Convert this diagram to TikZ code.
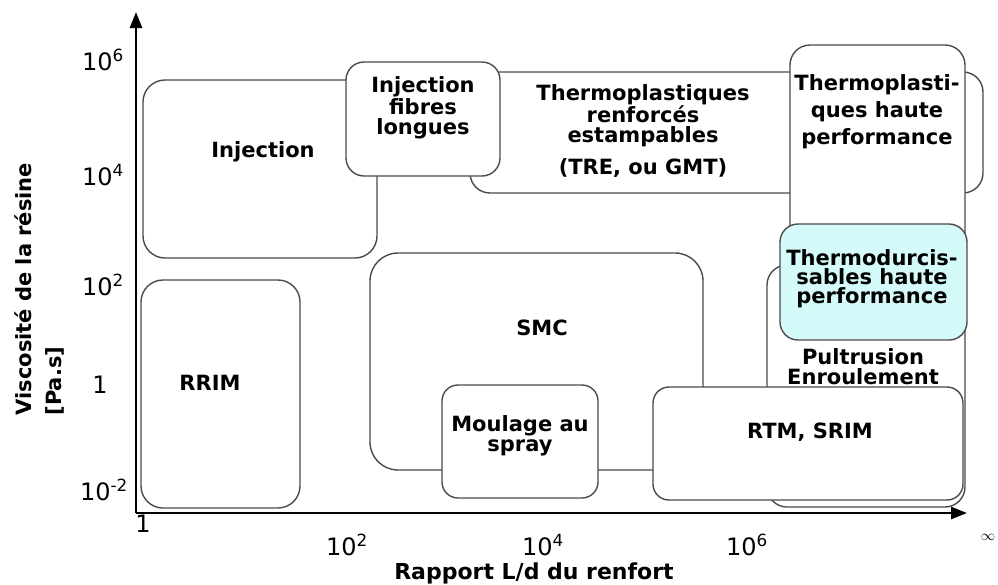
\documentclass[tikz,border=0pt]{standalone}
\usepackage{fontspec}
\setmainfont{DejaVu Sans}
\usepackage{xcolor}
\usepackage{tikz}
\usetikzlibrary{arrows.meta, positioning}
\definecolor{zoneline}{RGB}{75,75,75}
\definecolor{thermofill}{RGB}{212,250,250}

\begin{document}
\begin{tikzpicture}[
  x=1pt, y=-1pt,
  zone/.style={draw=zoneline, line width=1.4pt, rounded corners=20pt,
               fill=white, inner sep=0pt},
  lbl/.style={font=\bfseries\fontsize{21}{18}\selectfont, align=center},
  tick/.style={font=\fontsize{24}{26}\selectfont},
  axis/.style={line width=2.6pt, -{Triangle[length=16pt, width=12pt]}},
]
\useasboundingbox (0,0) rectangle (998,584);

\node[zone, minimum width=234pt, minimum height=178pt, rounded corners=22pt] (injection) at (260,169) {};
\node[zone, minimum width=513pt, minimum height=121pt] (tre) at (726.5,132.5) {};
\node[zone, minimum width=154pt, minimum height=114pt, rounded corners=18pt] (fibres) at (423,119) {};
\node[zone, minimum width=175pt, minimum height=255pt] (tphp) at (877.5,172.5) {};
\node[zone, minimum width=333pt, minimum height=217pt, rounded corners=28pt] (smc) at (536.5,361.5) {};
\node[zone, minimum width=156pt, minimum height=113pt, rounded corners=16pt] (moulage) at (520,441.5) {};
\node[zone, minimum width=198pt, minimum height=242pt] (pultrusion) at (866,386) {};
\node[zone, minimum width=310pt, minimum height=113pt, rounded corners=16pt] (rtm) at (808,443.5) {};
\node[zone, fill=thermofill, minimum width=187pt, minimum height=116pt, rounded corners=18pt] (thermodurc) at (873.5,282) {};
\node[zone, minimum width=159pt, minimum height=228pt, rounded corners=22pt] (rrim) at (220.5,394) {};

\node[lbl] (injectionlbl) at (263,152) {Injection};
\node[lbl, font=\bfseries\fontsize{21}{20}\selectfont] (fibreslbl) at (423,108) {Injection\\fibres\\longues};
\node[lbl, font=\bfseries\fontsize{21}{20}\selectfont] (trelbl) at (643,116) {Thermoplastiques\\renforcés\\estampables};
\node[lbl] (gmtlbl) at (643,168) {(TRE, ou GMT)};
\node[lbl, font=\bfseries\fontsize{21}{27}\selectfont] (tphplbl) at (877,112) {Thermoplasti-\\ques haute\\performance};
\node[lbl, font=\bfseries\fontsize{21}{19}\selectfont] (thermolbl) at (872,279) {Thermodurcis-\\sables haute\\performance};
\node[lbl] (smclbl) at (542,328) {SMC};
\node[lbl, font=\bfseries\fontsize{21}{20}\selectfont] (moulagelbl) at (520,436) {Moulage au\\spray};
\node[lbl, font=\bfseries\fontsize{21}{20}\selectfont] (pultrusionlbl) at (863,367) {Pultrusion\\Enroulement};
\node[lbl] (rtmlbl) at (810,432) {RTM, SRIM};
\node[lbl] (rrimlbl) at (210,383) {RRIM};

\coordinate (origin) at (136,513);
\coordinate (ytip) at (136,12);
\coordinate (xtip) at (967,513);
\draw[axis] (origin) -- (ytip);
\draw[axis] (origin) -- (xtip);

\node[tick] (ysix) at (103,60) {10\textsuperscript{6}};
\node[tick] (yfour) at (103,175) {10\textsuperscript{4}};
\node[tick] (ytwo) at (103,285) {10\textsuperscript{2}};
\node[tick] (yone) at (100,385) {1};
\node[tick] (yminus) at (104,490) {10\textsuperscript{-2}};

\node[tick] (xone) at (143,524) {1};
\node[tick] (xtwo) at (347,545) {10\textsuperscript{2}};
\node[tick] (xfour) at (543,545) {10\textsuperscript{4}};
\node[tick] (xsix) at (747,545) {10\textsuperscript{6}};
\node[tick, font=\bfseries\fontsize{14}{16}\selectfont, inner sep=1pt] (xinf) at (988,537) {$\infty$};

\node[lbl, font=\bfseries\fontsize{22}{24}\selectfont] (xlabel) at (534,573) {Rapport L/d du renfort};
\node[lbl, font=\bfseries\fontsize{21}{30}\selectfont, rotate=90,
      anchor=north west, align=left] (ylabel) at (11,419)
  {Viscosité de la résine\\{[Pa.s]}};
\end{tikzpicture}
\end{document}
